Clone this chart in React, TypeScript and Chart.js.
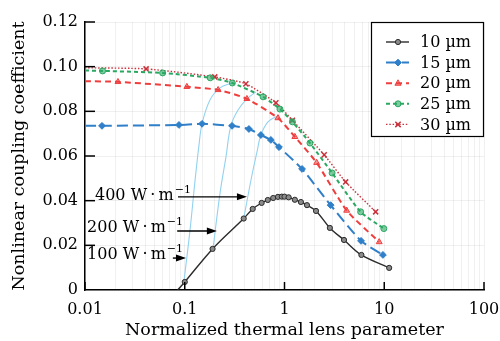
import React, { useEffect, useRef } from 'react';
import { Chart, registerables } from 'chart.js';
Chart.register(...registerables);

// ---------- data ----------
const X_MAJOR = [0.01, 0.1, 1, 10, 100];
const Y_TICKS = [0, 0.02, 0.04, 0.06, 0.08, 0.1, 0.12];

const x10 = [0.085, 0.1, 0.19, 0.39, 0.48, 0.59, 0.68, 0.77, 0.86, 0.94, 1.0, 1.1, 1.27, 1.46, 1.68, 2.07, 2.85, 3.95, 5.9, 11.2];
const y10 = [0, 0.0036, 0.0184, 0.032, 0.0363, 0.039, 0.0403, 0.0412, 0.0417, 0.0418, 0.0418, 0.0415, 0.0404, 0.0394, 0.038, 0.0354, 0.0278, 0.0224, 0.0157, 0.0099];

const x15 = [0.01, 0.0148, 0.0875, 0.149, 0.298, 0.44, 0.58, 0.73, 0.88, 1.5, 2.9, 5.85, 9.7];
const y15 = [0.0735, 0.0735, 0.0739, 0.0744, 0.0735, 0.0721, 0.0694, 0.0672, 0.064, 0.0542, 0.038, 0.022, 0.0157];

const x20 = [0.01, 0.0214, 0.105, 0.216, 0.42, 0.86, 1.27, 2.1, 4.2, 8.9];
const y20 = [0.0935, 0.0932, 0.091, 0.0896, 0.0856, 0.077, 0.0686, 0.057, 0.0356, 0.0215];

const x25 = [0.01, 0.015, 0.06, 0.18, 0.3, 0.61, 0.9, 1.2, 1.8, 3.0, 5.8, 9.9];
const y25 = [0.0983, 0.0981, 0.0972, 0.095, 0.0927, 0.0865, 0.081, 0.0753, 0.0658, 0.0524, 0.035, 0.0275];

const x30 = [0.01, 0.041, 0.2, 0.41, 0.82, 1.2, 2.5, 4.1, 8.2];
const y30 = [0.0995, 0.099, 0.0954, 0.0923, 0.0838, 0.076, 0.0605, 0.0484, 0.035];

// constant-power guide curves
const xP100 = [0.098, 0.113, 0.127, 0.139, 0.149, 0.179, 0.226, 0.297];
const yP100 = [0.0036, 0.0269, 0.0493, 0.065, 0.0744, 0.0851, 0.0905, 0.0927];
const xP200 = [0.192, 0.226, 0.259, 0.29, 0.342, 0.42, 0.518];
const yP200 = [0.0184, 0.0435, 0.0596, 0.0735, 0.0806, 0.0856, 0.0887];
const xP400 = [0.39, 0.472, 0.53, 0.58, 0.683, 0.86];
const yP400 = [0.032, 0.0515, 0.0618, 0.0694, 0.0753, 0.078];

const legendLabels = ['10 µm', '15 µm', '20 µm', '25 µm', '30 µm'];

const powerLabels = ['400 W\u2009·\u2009m', '200 W\u2009·\u2009m', '100 W\u2009·\u2009m'];
const powerTextX = [0.0126, 0.0105, 0.0105];
const powerTextY = [0.0421, 0.0278, 0.0157];
const arrowFromX = [0.0855, 0.084, 0.076];
const arrowToX = [0.42, 0.21, 0.103];
const arrowY = [0.0417, 0.0264, 0.0143];

// ---------- styles ----------
const FONT = 'DejaVu Serif';
const COLORS = ['#2b2b2b', '#2f7fc9', '#ef3e3e', '#2aa862', '#c8323c'];
const DASHES: number[][] = [[], [11, 5], [6, 4], [4, 3], [1.5, 1.8]];
const WIDTHS = [1.4, 2, 2, 2, 1.4];
const STYLES = ['circle', 'rectRot', 'triangle', 'circle', 'crossRot'];
const FILLS = ['#8a8a8a', '#2f7fc9', 'rgba(239,62,62,0.55)', 'rgba(42,168,98,0.6)', '#c8323c'];
const RADII = [2.6, 3.4, 3.4, 3, 3.6];
const GUIDE = '#93d2ef';

const pts = (xs: number[], ys: number[]) => xs.map((x, i) => ({ x, y: ys[i] }));

const isMajor = (v: number) => {
  const l = Math.log10(v);
  return Math.abs(l - Math.round(l)) < 1e-6;
};

function drawMarker(ctx: CanvasRenderingContext2D, style: string, x: number, y: number, r: number, fill: string, stroke: string) {
  ctx.save();
  ctx.setLineDash([]);
  ctx.fillStyle = fill;
  ctx.strokeStyle = stroke;
  ctx.lineWidth = 1;
  ctx.beginPath();
  if (style === 'circle') {
    ctx.arc(x, y, r, 0, Math.PI * 2);
    ctx.fill();
    ctx.stroke();
  } else if (style === 'rectRot') {
    ctx.moveTo(x, y - r);
    ctx.lineTo(x + r, y);
    ctx.lineTo(x, y + r);
    ctx.lineTo(x - r, y);
    ctx.closePath();
    ctx.fill();
    ctx.stroke();
  } else if (style === 'triangle') {
    ctx.moveTo(x, y - r);
    ctx.lineTo(x + r * 0.9, y + r * 0.6);
    ctx.lineTo(x - r * 0.9, y + r * 0.6);
    ctx.closePath();
    ctx.fill();
    ctx.stroke();
  } else {
    const d = r * 0.75;
    ctx.lineWidth = 1.5;
    ctx.moveTo(x - d, y - d);
    ctx.lineTo(x + d, y + d);
    ctx.moveTo(x + d, y - d);
    ctx.lineTo(x - d, y + d);
    ctx.stroke();
  }
  ctx.restore();
}

const decorPlugin = {
  id: 'decor',
  afterDraw(chart: any) {
    const ctx: CanvasRenderingContext2D = chart.ctx;
    const xs = chart.scales.x;
    const ys = chart.scales.y;
    const area = chart.chartArea;
    ctx.save();
    // inward ticks
    ctx.strokeStyle = '#000';
    ctx.lineWidth = 1.5;
    ctx.setLineDash([]);
    X_MAJOR.forEach((v) => {
      const px = xs.getPixelForValue(v);
      ctx.beginPath();
      ctx.moveTo(px, area.bottom);
      ctx.lineTo(px, area.bottom - 8);
      ctx.stroke();
    });
    Y_TICKS.forEach((v) => {
      if (v === 0) return;
      const py = ys.getPixelForValue(v);
      ctx.beginPath();
      ctx.moveTo(area.left, py);
      ctx.lineTo(area.left + 10, py);
      ctx.stroke();
    });

    // annotations
    ctx.fillStyle = '#000';
    ctx.textBaseline = 'middle';
    ctx.textAlign = 'left';
    powerLabels.forEach((t, i) => {
      const tx = xs.getPixelForValue(powerTextX[i]);
      const ty = ys.getPixelForValue(powerTextY[i]);
      ctx.font = `16px "${FONT}"`;
      ctx.fillText(t, tx, ty);
      const w = ctx.measureText(t).width;
      ctx.font = `11px "${FONT}"`;
      ctx.fillText('−1', tx + w + 1, ty - 6);
      const ax0 = xs.getPixelForValue(arrowFromX[i]);
      const ax1 = xs.getPixelForValue(arrowToX[i]);
      const ay = ys.getPixelForValue(arrowY[i]);
      ctx.lineWidth = 1.4;
      ctx.beginPath();
      ctx.moveTo(ax0, ay);
      ctx.lineTo(ax1 - 6, ay);
      ctx.stroke();
      ctx.beginPath();
      ctx.moveTo(ax1, ay);
      ctx.lineTo(ax1 - 10, ay - 3.5);
      ctx.lineTo(ax1 - 10, ay + 3.5);
      ctx.closePath();
      ctx.fill();
    });

    // legend
    const bw = 113;
    const bh = 114;
    const lx = area.right - bw;
    const ly = area.top;
    ctx.fillStyle = '#fff';
    ctx.fillRect(lx, ly, bw, bh);
    ctx.strokeStyle = '#000';
    ctx.lineWidth = 1.2;
    ctx.strokeRect(lx + 0.5, ly + 0.5, bw - 1, bh);
    legendLabels.forEach((t, i) => {
      const yy = ly + 20 + i * 20.6;
      ctx.save();
      ctx.strokeStyle = COLORS[i];
      ctx.lineWidth = WIDTHS[i];
      ctx.setLineDash(DASHES[i]);
      ctx.beginPath();
      ctx.moveTo(lx + 15, yy);
      ctx.lineTo(lx + 38, yy);
      ctx.stroke();
      ctx.restore();
      drawMarker(ctx, STYLES[i], lx + 27, yy, RADII[i], FILLS[i], COLORS[i]);
      ctx.fillStyle = '#000';
      ctx.font = `16px "${FONT}"`;
      ctx.textBaseline = 'middle';
      ctx.fillText(t, lx + 49, yy + 1);
    });
    ctx.restore();
  },
};

export default function App() {
  const ref = useRef<HTMLCanvasElement | null>(null);
  useEffect(() => {
    document.body.style.margin = '0';
    const canvas = ref.current;
    if (!canvas) return;
    const series = [pts(x10, y10), pts(x15, y15), pts(x20, y20), pts(x25, y25), pts(x30, y30)];
    const main = series.map((d, i) => ({
      label: legendLabels[i],
      data: d,
      borderColor: COLORS[i],
      borderWidth: WIDTHS[i],
      borderDash: DASHES[i],
      backgroundColor: FILLS[i],
      pointBackgroundColor: FILLS[i],
      pointBorderColor: COLORS[i],
      pointBorderWidth: i === 4 ? 1.5 : 1,
      pointStyle: STYLES[i],
      pointRadius: (c: any) => (c.dataIndex === 0 ? 0 : RADII[i]),
      tension: i === 0 ? 0.35 : 0.2,
      fill: false,
    }));
    const guides = [pts(xP100, yP100), pts(xP200, yP200), pts(xP400, yP400)].map((d) => ({
      label: 'guide',
      data: d,
      borderColor: GUIDE,
      borderWidth: 1.1,
      pointRadius: 0,
      tension: 0.4,
      fill: false,
    }));
    const font = { family: FONT, size: 16 };
    const titleFont = { family: FONT, size: 17.5 };
    const chart = new Chart(canvas, {
      type: 'line',
      data: { datasets: [...main, ...guides] as any },
      options: {
        animation: false,
        responsive: false,
        devicePixelRatio: 1,
        layout: { padding: { top: 22, right: 16, left: 0, bottom: 0 } },
        plugins: { legend: { display: false }, tooltip: { enabled: false } },
        scales: {
          x: {
            type: 'logarithmic',
            min: 0.01,
            max: 100,
            grid: { color: 'rgba(0,0,0,0.06)', drawTicks: false },
            border: { color: '#000', width: 1.5 },
            ticks: {
              font,
              color: '#000',
              padding: 10,
              autoSkip: false,
              maxRotation: 0,
              callback: (v: any) => (isMajor(Number(v)) ? String(Number(Number(v).toPrecision(6))) : ''),
            },
            title: {
              display: true,
              text: 'Normalized thermal lens parameter',
              font: titleFont,
              color: '#000',
              padding: { top: 0, bottom: 0 },
            },
            afterFit: (s: any) => {
              s.height = 51;
              s.paddingLeft = 0;
              s.paddingRight = 0;
            },
          },
          y: {
            min: 0,
            max: 0.12,
            grid: { color: 'rgba(0,0,0,0.06)', drawTicks: false },
            border: { color: '#000', width: 1.5 },
            ticks: {
              font,
              color: '#000',
              padding: 7,
              stepSize: 0.02,
              callback: (v: any) => (Number(v) === 0 ? '0' : Number(v).toFixed(2)),
            },
            title: {
              display: true,
              text: 'Nonlinear coupling coefficient',
              font: titleFont,
              color: '#000',
              padding: { top: 9, bottom: 0 },
            },
            afterFit: (s: any) => {
              s.width = 85;
              s.paddingTop = 0;
              s.paddingBottom = 0;
            },
          },
        },
      } as any,
      plugins: [decorPlugin],
    });
    return () => chart.destroy();
  }, []);
  return (
    <div style={{ position: 'fixed', left: 0, top: 0, width: 500, height: 341 }}>
      <canvas ref={ref} width={500} height={341} />
    </div>
  );
}
